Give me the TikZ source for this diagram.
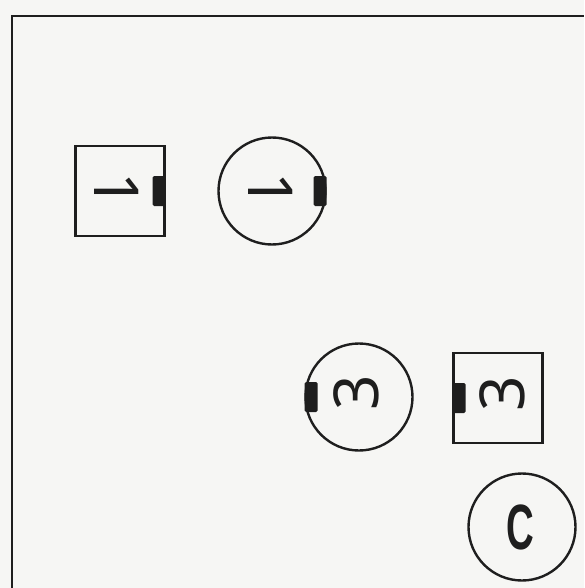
\documentclass[tikz,border=0pt]{standalone}
\usepackage{fontspec}
\setmainfont{Liberation Sans}
\newfontfamily\narrowsans{Liberation Sans}[FakeStretch=0.6,UprightFont=* Bold]
\newfontfamily\digitsans{Noto Sans}
\definecolor{paper}{RGB}{246,246,244}
\definecolor{ink}{RGB}{30,30,30}
\tikzset{
  tile/.style={draw=ink,line width=2.4pt,minimum width=89pt,minimum height=90pt,inner sep=0pt},
  disc/.style={draw=ink,circle,line width=2.4pt,minimum size=107pt,inner sep=0pt},
  topbar/.style={fill=ink,minimum width=13pt,minimum height=30pt,inner sep=0pt,rounded corners=1.5pt},
  numeral/.style={font=\digitsans\fontsize{62}{62}\selectfont,inner sep=0pt,text=ink}
}
\begin{document}
\begin{tikzpicture}[x=1pt,y=-1pt]
  \fill[paper](0,0) rectangle (584,588);
  \useasboundingbox (0,0) rectangle (584,588);
  \draw[ink,line width=2.4pt](12,588)--(12,16)--(584,16);
  % the two "1" tokens, top turned to the right
  \node[tile] (sq1) at (120,191){};
  \node[disc] (c1) at (272,191){};
  \node[topbar,anchor=east] (b1) at (sq1.east){};
  \node[topbar,anchor=east] (b2) at (c1.east){};
  \node[numeral,rotate=-90] (n1) at (117,190){1};
  \node[numeral,rotate=-90] (n2) at (271,190){1};
  % the two "3" tokens, top turned to the left
  \node[disc] (c3) at (359,397){};
  \node[tile] (sq3) at (498,398){};
  \node[topbar,anchor=west] (b3) at (c3.west){};
  \node[topbar,anchor=west] (b4) at (sq3.west){};
  \node[numeral,rotate=90] (n3) at (356,393){3};
  \node[numeral,rotate=90] (n4) at (502,394){3};
  % C
  \node[disc] (cC) at (522,527){};
  \node[font=\narrowsans\fontsize{64}{64}\selectfont,text=ink,inner sep=0pt] (lc) at (520,527){C};
\end{tikzpicture}
\end{document}
